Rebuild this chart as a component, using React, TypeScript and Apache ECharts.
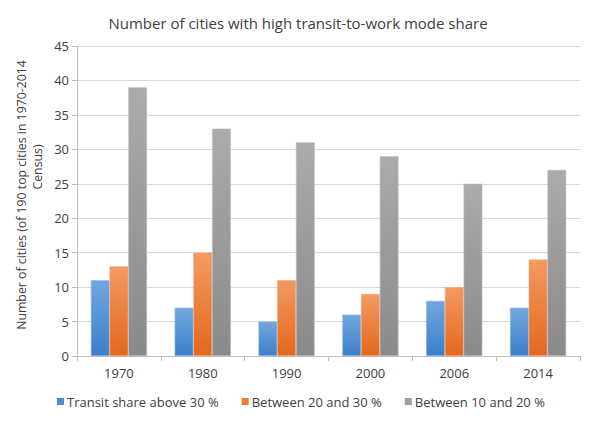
import React, { useEffect, useRef } from "react";
import * as echarts from "echarts";

const categories = ["1970", "1980", "1990", "2000", "2006", "2014"];
const seriesNames = ["Transit share above 30 %", "Between 20 and 30 %", "Between 10 and 20 %"];
const above30 = [11, 7, 5, 6, 8, 7];
const between20and30 = [13, 15, 11, 9, 10, 14];
const between10and20 = [39, 33, 31, 29, 25, 27];
const yTitleLines = ["Number of cities (of 190 top cities in 1970-2014", "Census)"];

const FONT = "'Open Sans', 'Noto Sans', sans-serif";

function grad(top: string, bottom: string) {
  return new echarts.graphic.LinearGradient(0, 0, 0, 1, [
    { offset: 0, color: top },
    { offset: 1, color: bottom },
  ]);
}

export default function App() {
  const ref = useRef<HTMLDivElement>(null);
  useEffect(() => {
    if (!ref.current) return;
    const chart = echarts.init(ref.current, undefined, { renderer: "svg" });
    const colors = [
      { fill: grad("#72a7de", "#3b7fcb"), solid: "#4a8ad2", border: "#8ab6e6" },
      { fill: grad("#f39a62", "#e5671c"), solid: "#ee7a30", border: "#f4a577" },
      { fill: grad("#ababab", "#8a8a8a"), solid: "#9e9e9e", border: "#bcbcbc" },
    ];
    const data = [above30, between20and30, between10and20];
    chart.setOption({
      animation: false,
      title: {
        text: "Number of cities with high transit-to-work mode share",
        left: 293,
        textAlign: "center",
        top: 10,
        textStyle: { fontFamily: FONT, fontSize: 15, fontWeight: "normal", color: "#404040" },
      },
      legend: {
        bottom: 12,
        left: 52,
        itemWidth: 7,
        itemHeight: 7,
        itemGap: 23,
        icon: "rect",
        textStyle: { fontFamily: FONT, fontSize: 13, color: "#404040", padding: [0, 0, 0, -2] },
        data: seriesNames.map((n, i) => ({ name: n, itemStyle: { color: colors[i].solid, borderWidth: 0 } })),
      },
      grid: { left: 77, right: 20, top: 46, bottom: 69 },
      xAxis: {
        type: "category",
        data: categories,
        axisLine: { lineStyle: { color: "#bfbfbf" } },
        axisTick: { show: true, length: 5, lineStyle: { color: "#bfbfbf" } },
        axisLabel: { fontFamily: FONT, fontSize: 13, color: "#404040", margin: 10 },
      },
      yAxis: {
        type: "value",
        min: 0,
        max: 45,
        interval: 5,
        name: "{a|" + yTitleLines[0] + "}\n{b|" + yTitleLines[1] + "}",
        nameLocation: "middle",
        nameGap: 30,
        nameTextStyle: {
          fontFamily: FONT,
          fontSize: 12.3,
          color: "#404040",
          rich: {
            a: { fontFamily: FONT, fontSize: 12.3, color: "#404040", lineHeight: 16, padding: [0, 0, 0, 12] },
            b: { fontFamily: FONT, fontSize: 12.3, color: "#404040", lineHeight: 16, padding: [0, 0, 0, 68] },
          },
        },
        axisLine: { show: true, lineStyle: { color: "#bfbfbf" } },
        axisTick: { show: true, length: 5, lineStyle: { color: "#bfbfbf" } },
        splitLine: { lineStyle: { color: "#d9d9d9" } },
        axisLabel: { fontFamily: FONT, fontSize: 13, color: "#404040", margin: 8 },
      },
      series: seriesNames.map((n, i) => ({
        name: n,
        type: "bar",
        data: data[i],
        barGap: "0%",
        barCategoryGap: "33%",
        itemStyle: { color: colors[i].fill, borderColor: colors[i].border, borderWidth: 0.6 },
      })),
    });
    return () => chart.dispose();
  }, []);
  return <div ref={ref} style={{ position: "absolute", left: 0, top: 0, width: 600, height: 425 }} />;
}
